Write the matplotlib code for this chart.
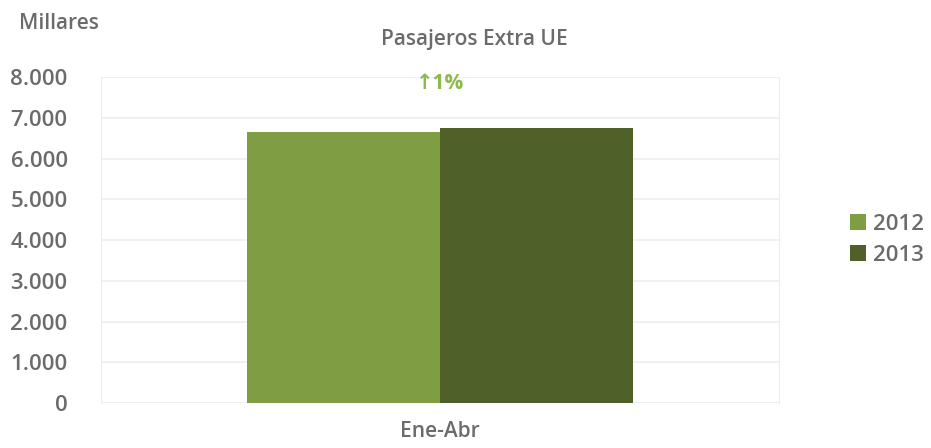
import matplotlib
matplotlib.use("Agg")
import matplotlib.pyplot as plt
from matplotlib.ticker import FuncFormatter
import numpy as np

# datos (millares de pasajeros)
categories = ["Ene-Abr"]
years = ["2012", "2013"]
values_2012 = [6640]
values_2013 = [6750]
change_label = "\u21911%"

colors = {"2012": "#7F9E43", "2013": "#4F6129"}
text_gray = "#6B6B6B"

plt.rcParams["font.family"] = ["Open Sans", "DejaVu Sans"]

fig = plt.figure(figsize=(9.31, 4.48), dpi=100)
ax = fig.add_axes([0.1085, 0.1004, 0.7282, 0.7276])

x = np.arange(len(categories))
w = 0.285
ax.bar(x - w / 2, values_2012, w, color=colors["2012"], label="2012", zorder=3)
ax.bar(x + w / 2, values_2013, w, color=colors["2013"], label="2013", zorder=3)

ax.set_xlim(-0.5, 0.5)
ax.set_ylim(0, 8000)
ax.set_yticks(np.arange(0, 8001, 1000))
ax.yaxis.set_major_formatter(FuncFormatter(lambda v, p: f"{int(v):,}".replace(",", ".")))
ax.grid(axis="y", color="#EDEDED", linewidth=1.2, zorder=0)
ax.set_axisbelow(True)

for s in ["top", "bottom"]:
    ax.spines[s].set_visible(False)
for s in ["left", "right"]:
    ax.spines[s].set_color("#EDEDED")

ax.tick_params(axis="y", length=0, pad=24, labelsize=16, labelcolor=text_gray)
ax.tick_params(axis="x", length=0, pad=13, labelsize=15, labelcolor=text_gray)
for lbl in ax.get_yticklabels():
    lbl.set_fontweight("semibold")
ax.set_xticks(x)
ax.set_xticklabels(categories, fontweight="semibold")

# variación
ax.text(x[0] + 0.0, 7830, change_label, ha="center", va="center",
        fontsize=15, color="#8CBB4B", fontweight="bold")

fig.text(0.51, 0.912, "Pasajeros Extra UE", ha="center", va="center",
         fontsize=15, color=text_gray, fontweight="semibold")
fig.text(0.02, 0.948, "Millares", ha="left", va="center",
         fontsize=15, color=text_gray, fontweight="semibold")

leg = ax.legend(loc="center left", bbox_to_anchor=(1.075, 0.5), frameon=False,
                fontsize=16, handlelength=0.75, handleheight=0.75,
                handletextpad=0.3, labelspacing=0.45)
for t in leg.get_texts():
    t.set_color(text_gray)
    t.set_fontweight("semibold")

fig.savefig("out.png", dpi=100)
